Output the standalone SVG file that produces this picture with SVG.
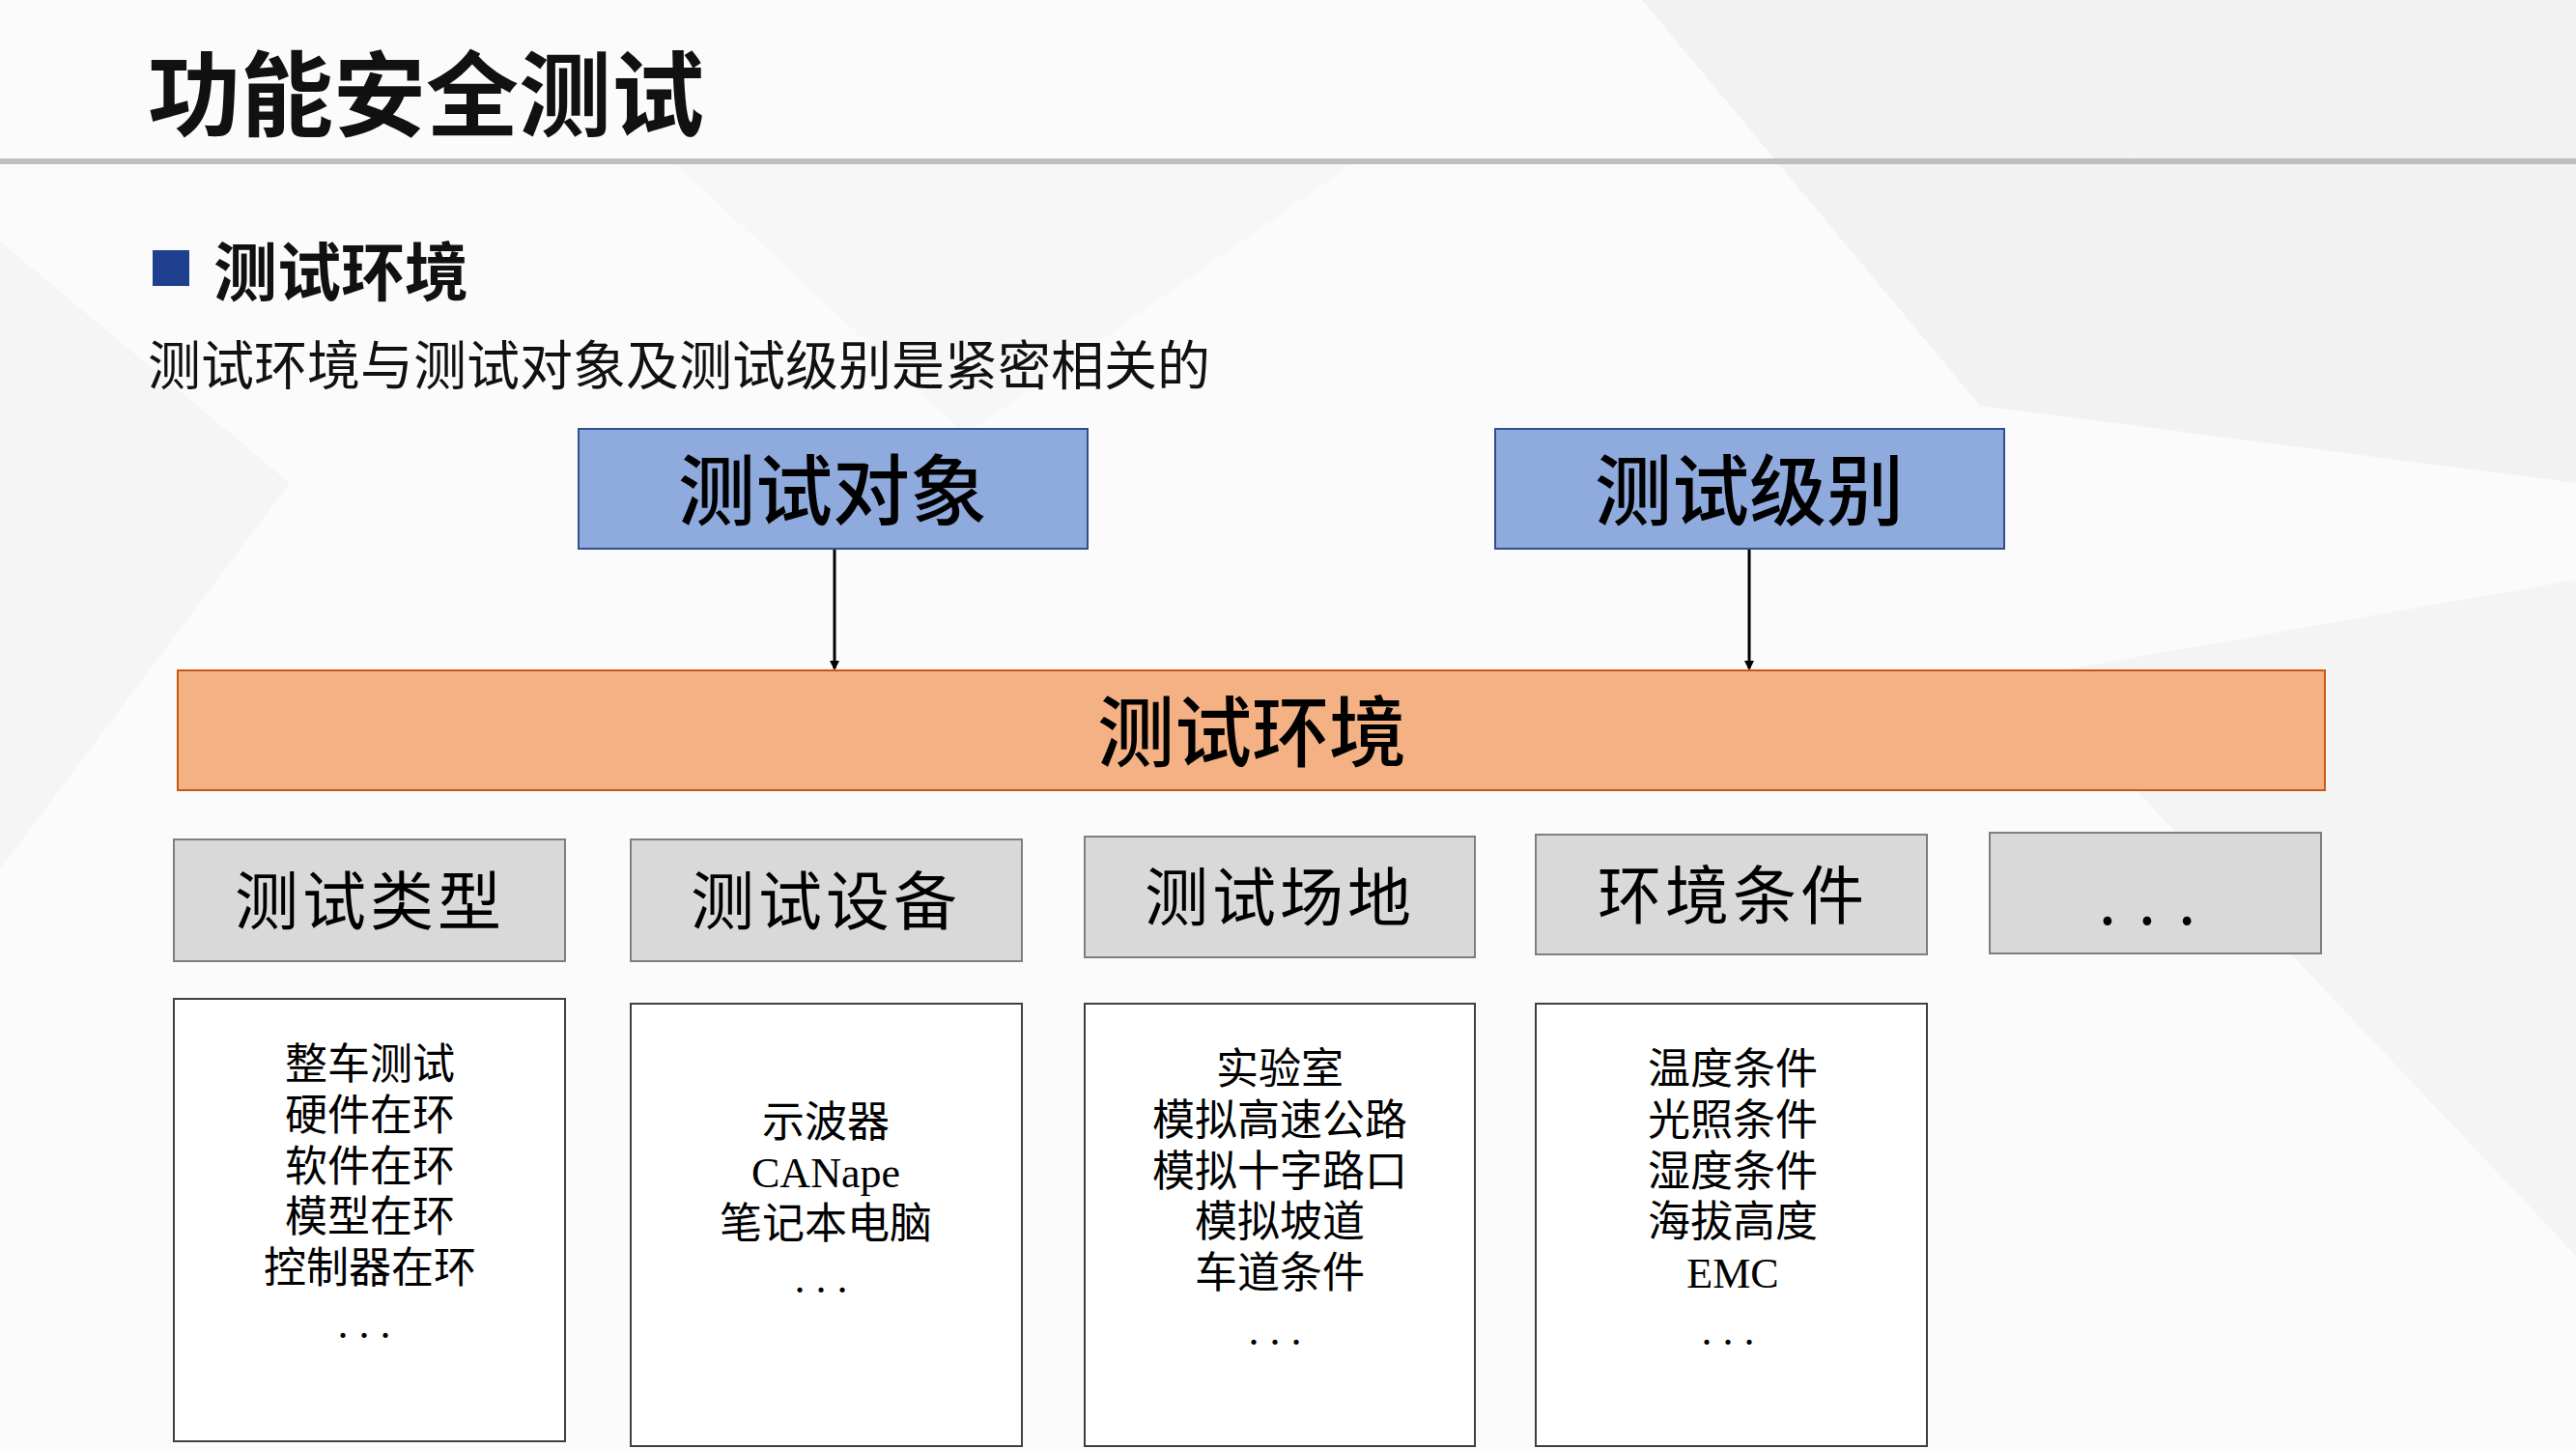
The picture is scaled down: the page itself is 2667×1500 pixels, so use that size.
<svg xmlns="http://www.w3.org/2000/svg" width="2667" height="1500" viewBox="0 0 2667 1500">
<defs>
<marker id="ah" markerWidth="10" markerHeight="10" refX="8" refY="5" orient="auto" markerUnits="userSpaceOnUse"><path d="M0,0 L10,5 L0,10 z" fill="#000"/></marker>
<style>
.cj{font-family:"Noto Sans CJK SC","Liberation Sans",sans-serif}
.top{fill:#8faadc;stroke:#2f4f8f;stroke-width:2}
.gr{fill:#d9d9d9;stroke:#7f7f7f;stroke-width:2}
.wh{fill:#fff;stroke:#404040;stroke-width:2}
.bt{font-family:"Noto Sans CJK SC",sans-serif;font-size:80px;font-weight:500;text-anchor:middle;dominant-baseline:central;fill:#000}
.gt{font-family:"Noto Sans CJK SC",sans-serif;font-size:66px;text-anchor:middle;dominant-baseline:central;fill:#000;letter-spacing:4px}
.lt{font-family:"Liberation Serif","Noto Sans CJK SC",serif;font-size:44px;text-anchor:middle;dominant-baseline:central;fill:#000}
</style>
</defs>
<rect width="2667" height="1500" fill="#fbfbfb"/>
<g fill="#f2f2f2">
<polygon points="1700,0 2300,0 2050,420"/>
<polygon points="2300,0 2667,0 2667,500 2050,420"/>
<polygon points="0,250 300,500 0,900" fill="#f5f5f5"/>
<polygon points="2100,700 2667,600 2667,1300" fill="#f4f4f4"/>
<polygon points="700,170 1400,170 1000,450" fill="#f7f7f7"/>
</g>
<text x="153" y="133" class="cj" font-size="96" font-weight="bold" fill="#111">功能安全测试</text>
<rect x="0" y="164" width="2667" height="6" fill="#bfbfbf"/>
<rect x="158" y="259" width="38" height="37" fill="#1f3f8f"/>
<text x="221" y="306" class="cj" font-size="66" font-weight="bold" fill="#111">测试环境</text>
<text x="153" y="398" class="cj" font-size="55" fill="#111">测试环境与测试对象及测试级别是紧密相关的</text>
<g id="connectors" stroke="#000" stroke-width="3">
<line x1="864" y1="568" x2="864" y2="692" marker-end="url(#ah)"/>
<line x1="1811" y1="568" x2="1811" y2="692" marker-end="url(#ah)"/>
</g>
<g id="obj"><rect class="top" x="599" y="444" width="527" height="124"/><text class="bt" x="862" y="502">测试对象</text></g>
<g id="lvl"><rect class="top" x="1548" y="444" width="527" height="124"/><text class="bt" x="1811" y="502">测试级别</text></g>
<g id="env"><rect x="184" y="694" width="2223" height="124" fill="#f4b183" stroke="#c55a11" stroke-width="2"/><text class="bt" x="1296" y="752">测试环境</text></g>
<g id="g1"><rect class="gr" x="180" y="869" width="405" height="126"/><text class="gt" x="383" y="928">测试类型</text></g>
<g id="g2"><rect class="gr" x="653" y="869" width="405" height="126"/><text class="gt" x="855" y="928">测试设备</text></g>
<g id="g3"><rect class="gr" x="1123" y="866" width="404" height="125"/><text class="gt" x="1325" y="924">测试场地</text></g>
<g id="g4"><rect class="gr" x="1590" y="864" width="405" height="124"/><text class="gt" x="1794" y="922">环境条件</text></g>
<g id="g5"><rect class="gr" x="2060" y="862" width="343" height="125"/><text class="gt" x="2225" y="928">. . .</text></g>
<g id="w1"><rect class="wh" x="180" y="1034" width="405" height="458"/>
<text class="lt" x="383" y="1102">整车测试</text><text class="lt" x="383" y="1155">硬件在环</text><text class="lt" x="383" y="1208">软件在环</text><text class="lt" x="383" y="1260">模型在环</text><text class="lt" x="383" y="1313">控制器在环</text><text class="lt" x="377" y="1370">. . .</text></g>
<g id="w2"><rect class="wh" x="653" y="1039" width="405" height="458"/>
<text class="lt" x="855" y="1162">示波器</text><text class="lt" x="855" y="1214">CANape</text><text class="lt" x="855" y="1267">笔记本电脑</text><text class="lt" x="850" y="1323">. . .</text></g>
<g id="w3"><rect class="wh" x="1123" y="1039" width="404" height="458"/>
<text class="lt" x="1325" y="1107">实验室</text><text class="lt" x="1325" y="1160">模拟高速公路</text><text class="lt" x="1325" y="1213">模拟十字路口</text><text class="lt" x="1325" y="1265">模拟坡道</text><text class="lt" x="1325" y="1318">车道条件</text><text class="lt" x="1320" y="1377">. . .</text></g>
<g id="w4"><rect class="wh" x="1590" y="1039" width="405" height="458"/>
<text class="lt" x="1794" y="1107">温度条件</text><text class="lt" x="1794" y="1160">光照条件</text><text class="lt" x="1794" y="1213">湿度条件</text><text class="lt" x="1794" y="1265">海拔高度</text><text class="lt" x="1794" y="1318">EMC</text><text class="lt" x="1789" y="1377">. . .</text></g>
</svg>
